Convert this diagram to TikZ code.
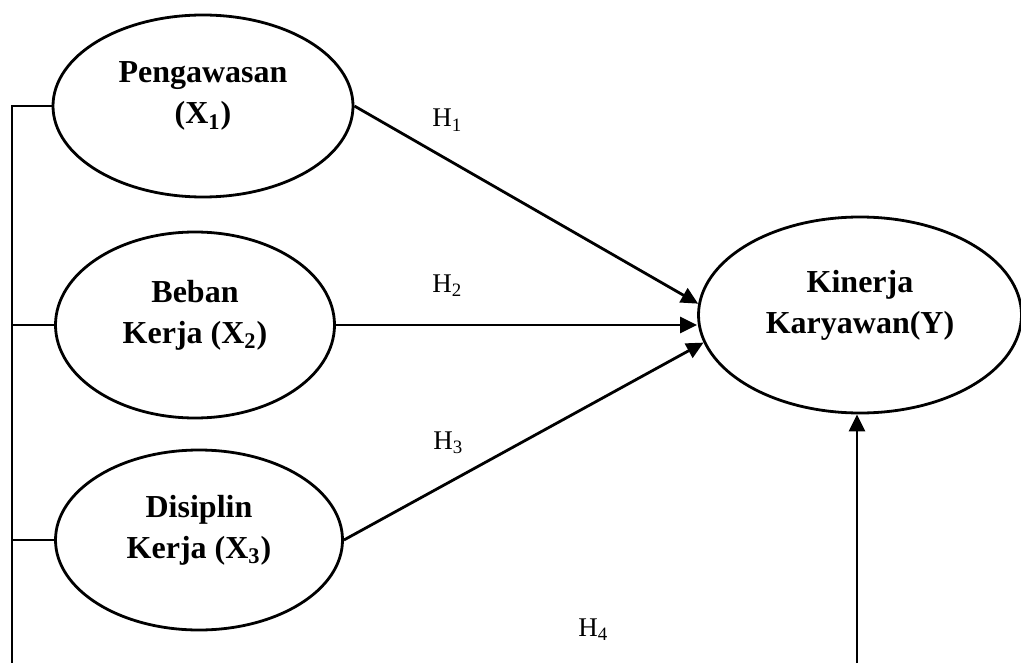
\documentclass[tikz,border=0pt]{standalone}
\usepackage{fontspec}
\setmainfont{Liberation Serif}
\usetikzlibrary{shapes.geometric,arrows.meta}
\tikzset{
  latent/.style={ellipse, draw, line width=1.4pt, inner sep=0pt, align=center,
    font=\bfseries\fontsize{16}{20.5}\selectfont},
  hlab/.style={font=\fontsize{13.5}{16}\selectfont, anchor=base west, inner sep=0pt},
  arr/.style={-{Triangle[length=8.5pt,width=8pt]}, line width=1.4pt},
  plain/.style={line width=1.4pt}
}
\newcommand{\dropbox}{\rule[-13pt]{0pt}{13pt}}
\begin{document}
\begin{tikzpicture}[x=0.5pt,y=-0.5pt]
\useasboundingbox (0,0) rectangle (1021,663);
\node[latent, minimum width=150pt, minimum height=91pt] (e1) at (203,106) {Pengawasan\\(X\textsubscript{1})\dropbox};
\node[latent, minimum width=139.5pt, minimum height=93pt] (e2) at (195,325) {Beban\\Kerja (X\textsubscript{2})\dropbox};
\node[latent, minimum width=143.5pt, minimum height=90pt] (e3) at (199,540) {Disiplin\\Kerja (X\textsubscript{3})\dropbox};
\node[latent, minimum width=161.5pt, minimum height=98pt] (y) at (860,315) {Kinerja\\Karyawan(Y)\dropbox};
\coordinate (lb) at (12,663);
\coordinate (b4) at (857,663);
\draw[plain] (e1.west) -| (lb);
\draw[plain] (e2.west) -- (e2.west -| lb);
\draw[plain] (e3.west) -- (e3.west -| lb);
\draw[arr] (e1.east) -- (y.176);
\draw[arr] (e2.east) -- (e2.east -| y.west);
\draw[arr] (e3.east) -- (y.190);
\draw[arr] (b4) -- (b4 |- y.south);
\node[hlab] (h1) at (432,127) {H\textsubscript{1}};
\node[hlab] (h2) at (432,292) {H\textsubscript{2}};
\node[hlab] (h3) at (433,449) {H\textsubscript{3}};
\node[hlab] (h4) at (578,636) {H\textsubscript{4}};
\end{tikzpicture}
\end{document}
